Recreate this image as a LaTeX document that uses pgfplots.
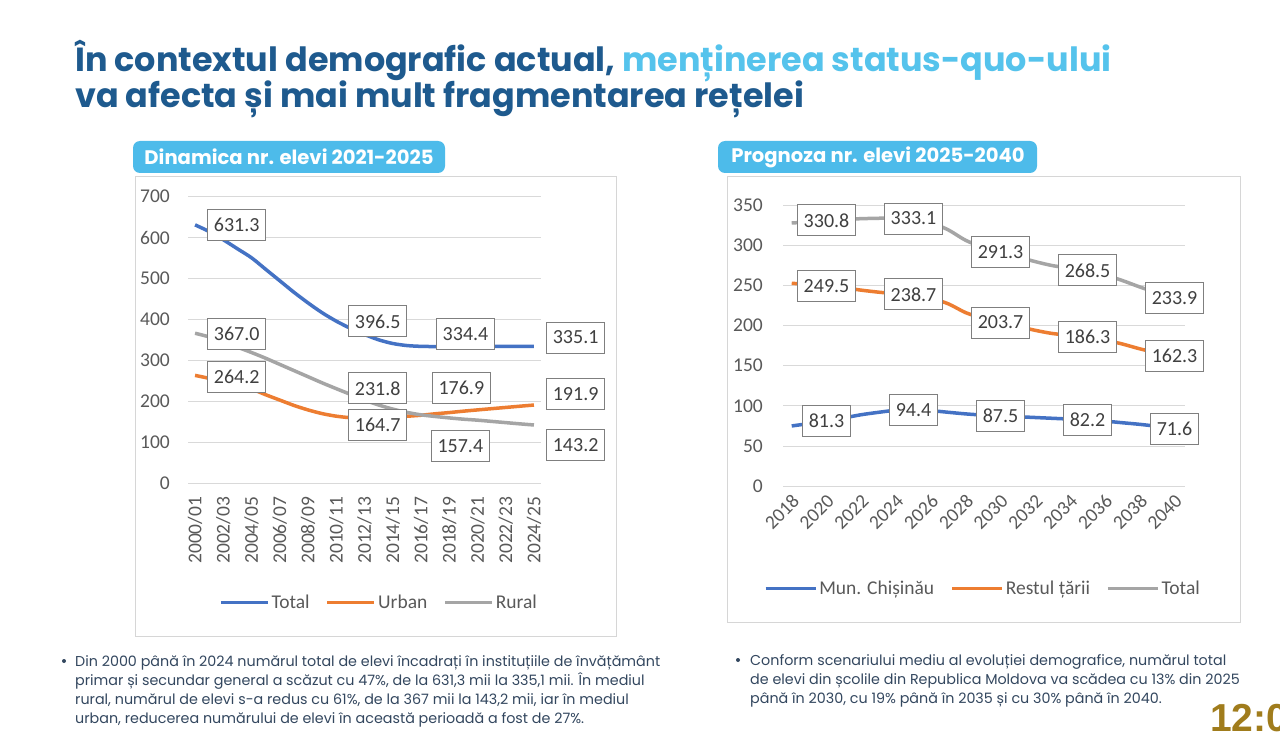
\documentclass[border=0pt]{standalone}
\usepackage{pgfplots}
\pgfplotsset{compat=1.18}
\usepackage{pgfplotstable}
\usepackage{fontspec}
\setmainfont{Carlito}
\newfontfamily\pop{Poppins}
\newfontfamily\clockface{Liberation Sans}

\definecolor{xlblue}{HTML}{4472C4}
\definecolor{xlorange}{HTML}{ED7D31}
\definecolor{xlgray}{HTML}{A5A5A5}
\definecolor{gridc}{HTML}{D9D9D9}
\definecolor{framec}{HTML}{D6D6D6}
\definecolor{ticktext}{HTML}{595959}
\definecolor{boxc}{HTML}{7F7F7F}
\definecolor{boxtext}{HTML}{404040}
\definecolor{titleblue}{HTML}{1E5A8E}
\definecolor{titlecyan}{HTML}{55C3EC}
\definecolor{badge}{HTML}{4DBBEA}
\definecolor{bodytext}{HTML}{33475F}
\definecolor{clockgold}{HTML}{A07C1C}

\newcommand\chartfont{\fontsize{19.5bp}{22bp}\selectfont}
\newcommand\lblfont{\fontsize{20bp}{22bp}\selectfont}
\newcommand\titlefont{\pop\bfseries\fontsize{33.4bp}{36bp}\selectfont}
\newcommand\badgefont{\pop\bfseries\fontsize{19.6bp}{22bp}\selectfont}
\newcommand\bodyfont{\pop\fontsize{14.3bp}{17bp}\selectfont}

% Pupils 2000/01 - 2024/25 (thousands), index 0 = 2000/01
\pgfplotstableread{
i  total  urban  rural
0  631.3  264.2  367.0
1  615    257    358
2  595    249    346
3  573    240    333
4  551    231    320
5  523    217    306
6  495    204    291
7  467    191    276
8  441    180    261
9  417    171    246
10 396.5  164.7  231.8
11 379    161    218
12 364    160    204
13 351    161    192
14 342    162.5  182
15 337    164.5  174
16 335    167    168
17 334.5  170.5  164
18 334    173.5  160.5
19 334.4  176.9  157.4
20 335    180    155
21 335    183    152
22 335    186    149
23 335    189    146
24 335.1  191.9  143.2
}\dynamics

% labelled points, with label offsets (bp)
\pgfplotstableread{
i  v      dx    dy
0  631.3  41.6  -0.3
10 396.5  41.4  -0.2
19 334.4  2.2   12.9
24 335.1  41.7  8.8
}\lblTotal
\pgfplotstableread{
i  v      dx    dy
0  264.2  41.6  -1.3
10 164.7  41.4  -9.1
19 176.9  -2.0  23.4
24 191.9  41.7  11.2
}\lblUrban
\pgfplotstableread{
i  v      dx    dy
0  367.0  41.6  -0.6
10 231.8  41.4  0.2
19 157.4  -3.0  -26.6
24 143.2  41.7  -20.5
}\lblRural

% Forecast 2018 - 2040 (thousands), index 0 = 2018
\pgfplotstableread{
i  chis   rest   total
0  75     252.6  327.6
1  78     251    329
2  81.3   249.5  330.8
3  85     247    332
4  89     244    333
5  92     241.5  333.5
6  94.5   239.5  334
7  94.4   238.7  333.1
8  94     234    328
9  92     227    319
10 90     216    306
11 88.5   209    297.5
12 87.5   203.7  291.3
13 86.5   199    285.5
14 85.5   194    279.5
15 84.5   190    274.5
16 83.5   188    271.5
17 82.2   186.3  268.5
18 81     182    263
19 79     177    256
20 77     171    248
21 74.5   166    240.5
22 71.6   162.3  233.9
}\forecast

\pgfplotstableread{
i  chis  rest   total
2  81.3  249.5  330.8
7  94.4  238.7  333.1
12 87.5  203.7  291.3
17 82.2  186.3  268.5
22 71.6  162.3  233.9
}\forecastlbl

\tikzset{
  boxnode/.style={draw=boxc, line width=1bp, fill=white, text=boxtext,
    font=\lblfont, inner xsep=6.5bp, inner ysep=0pt, minimum height=31bp},
}
\pgfplotsset{
  boxlabels/.style={draw=none, mark=none, forget plot, point meta=y,
    visualization depends on={\thisrow{dx} \as \ldx},
    visualization depends on={\thisrow{dy} \as \ldy},
    nodes near coords={\pgfmathprintnumber[fixed, fixed zerofill, precision=1, assume math mode=true]{\pgfplotspointmeta}},
    every node near coord/.append style={boxnode, anchor=center, xshift=\ldx bp, yshift=\ldy bp}},
  centerlabels/.style={draw=none, mark=none, forget plot, point meta=y,
    nodes near coords={\pgfmathprintnumber[fixed, fixed zerofill, precision=1, assume math mode=true]{\pgfplotspointmeta}},
    every node near coord/.append style={boxnode, anchor=center}},
  chartaxis/.style={scale only axis, clip=false,
    axis line style={draw=none}, major tick length=0pt,
    ymajorgrids, grid style={gridc, line width=1bp},
    /pgf/number format/assume math mode=true,
    tick label style={font=\chartfont, text=ticktext},
    yticklabel style={anchor=east, inner sep=0pt},
    legend columns=3,
    legend style={draw=none, fill=none, font=\chartfont, text=ticktext, anchor=center,
      /tikz/every even column/.append style={column sep=14bp}},
  },
}

\begin{document}
\begin{tikzpicture}[x=1bp, y=-1bp]
\useasboundingbox[fill=white] (0,0) rectangle (1280,732);

% heading
\node[anchor=base west, inner sep=0pt] at (75,72)
  {\titlefont\color{titleblue}În contextul demografic actual, \color{titlecyan}menținerea status-quo-ului};
\node[anchor=base west, inner sep=0pt] at (75,108)
  {\titlefont\color{titleblue}va afecta și mai mult fragmentarea rețelei};

% chart frames
\draw[framec, line width=1bp] (135,177) rectangle (616,636);
\draw[framec, line width=1bp] (727,177) rectangle (1240,622);

% chart captions
\fill[badge, rounded corners=7bp] (133,141) rectangle (445,173);
\node[text=white, inner sep=0pt] at (289,157) {\badgefont Dinamica nr. elevi 2021-2025};
\fill[badge, rounded corners=7bp] (718,141) rectangle (1037,173);
\node[text=white, inner sep=0pt] at (878,157) {\badgefont Prognoza nr. elevi 2025-2040};

% left chart
\begin{axis}[chartaxis,
  at={(188bp,-483.7bp)}, anchor=south west,
  width=353bp, height=287bp,
  xmin=-0.5, xmax=24.5, ymin=0, ymax=700,
  ytick={0,100,...,700},
  xtick={0,2,...,24},
  xticklabels={2000/01,2002/03,2004/05,2006/07,2008/09,2010/11,2012/13,2014/15,2016/17,2018/19,2020/21,2022/23,2024/25},
  xticklabel style={rotate=90, anchor=east, inner sep=0pt},
  xticklabel shift=13bp,
  yticklabel shift=18bp,
  legend style={at={(0.541,-0.4146)}},
  legend image code/.code={\draw[#1, line width=3.5bp] (0bp,0bp) -- (47bp,0bp);},
]
\addplot[xlblue, line width=3.5bp, smooth] table[x=i, y=total] \dynamics;
\addlegendentry{Total}
\addplot[xlorange, line width=3.5bp, smooth] table[x=i, y=urban] \dynamics;
\addlegendentry{Urban}
\addplot[xlgray, line width=3.5bp, smooth] table[x=i, y=rural] \dynamics;
\addlegendentry{Rural}
\addplot[boxlabels] table[x=i, y=v] \lblTotal;
\addplot[boxlabels] table[x=i, y=v] \lblUrban;
\addplot[boxlabels] table[x=i, y=v] \lblRural;
\end{axis}

% right chart
\begin{axis}[chartaxis,
  at={(783bp,-486.2bp)}, anchor=south west,
  width=402bp, height=281.2bp,
  xmin=-0.5, xmax=22.6, ymin=0, ymax=350,
  ytick={0,50,...,350},
  xtick={0,2,...,22},
  xticklabels={2018,2020,2022,2024,2026,2028,2030,2032,2034,2036,2038,2040},
  xticklabel style={rotate=45, anchor=east, inner sep=0pt, xshift=6bp},
  xticklabel shift=16bp,
  yticklabel shift=20bp,
  legend style={at={(0.497,-0.363)}},
  legend image code/.code={\draw[#1, line width=3.5bp] (0bp,0bp) -- (50bp,0bp);},
]
\addplot[xlblue, line width=3.5bp, smooth] table[x=i, y=chis] \forecast;
\addlegendentry{Mun. Chișinău}
\addplot[xlorange, line width=3.5bp, smooth] table[x=i, y=rest] \forecast;
\addlegendentry{Restul țării}
\addplot[xlgray, line width=3.5bp, smooth] table[x=i, y=total] \forecast;
\addlegendentry{Total}
\addplot[centerlabels] table[x=i, y=chis] \forecastlbl;
\addplot[centerlabels] table[x=i, y=rest] \forecastlbl;
\addplot[centerlabels] table[x=i, y=total] \forecastlbl;
\end{axis}

% notes
\fill[bodytext] (64,661) circle (2bp);
\node[anchor=base west, inner sep=0pt, text=bodytext] at (75,666) {\bodyfont Din 2000 până în 2024 numărul total de elevi încadrați în instituțiile de învățământ};
\node[anchor=base west, inner sep=0pt, text=bodytext] at (75,685) {\bodyfont primar și secundar general a scăzut cu 47\%, de la 631,3 mii la 335,1 mii. În mediul};
\node[anchor=base west, inner sep=0pt, text=bodytext] at (75,704) {\bodyfont rural, numărul de elevi s-a redus cu 61\%, de la 367 mii la 143,2 mii, iar în mediul};
\node[anchor=base west, inner sep=0pt, text=bodytext] at (75,723) {\bodyfont urban, reducerea numărului de elevi în această perioadă a fost de 27\%.};

\fill[bodytext] (738,660) circle (2bp);
\node[anchor=base west, inner sep=0pt, text=bodytext] at (750,665) {\bodyfont Conform scenariului mediu al evoluției demografice, numărul total};
\node[anchor=base west, inner sep=0pt, text=bodytext] at (750,684) {\bodyfont de elevi din școlile din Republica Moldova va scădea cu 13\% din 2025};
\node[anchor=base west, inner sep=0pt, text=bodytext] at (750,703) {\bodyfont până în 2030, cu 19\% până în 2035 și cu 30\% până în 2040.};

% clock
\node[anchor=base west, inner sep=0pt, text=clockgold] at (1210,731) {\clockface\bfseries\fontsize{39bp}{40bp}\selectfont 12:0};
\end{tikzpicture}
\end{document}
